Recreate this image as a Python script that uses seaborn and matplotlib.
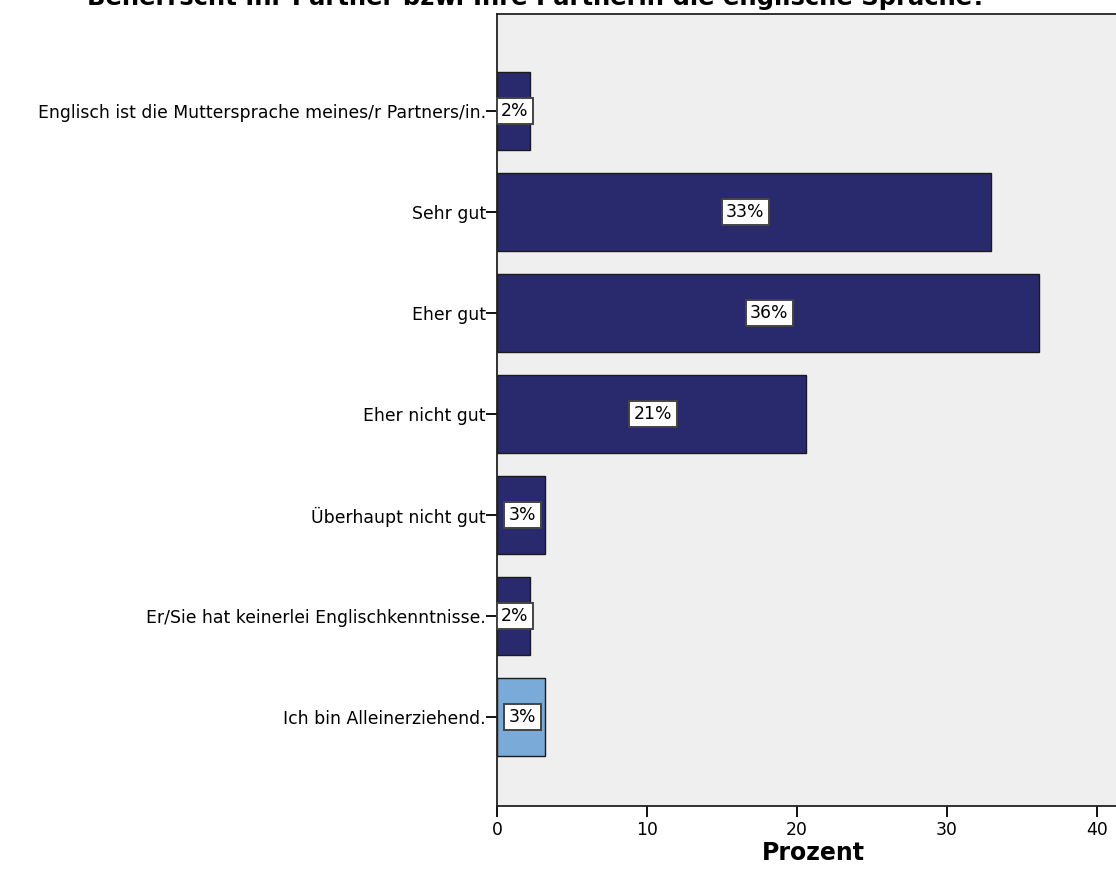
import pandas as pd
import numpy as np
import matplotlib
matplotlib.use("Agg")
import matplotlib.pyplot as plt
import seaborn as sns

categories = [
    "Englisch ist die Muttersprache meines/r Partners/in.",
    "Sehr gut",
    "Eher gut",
    "Eher nicht gut",
    "Überhaupt nicht gut",
    "Er/Sie hat keinerlei Englischkenntnisse.",
    "Ich bin Alleinerziehend.",
]
prozent = [2.2, 32.9, 36.1, 20.6, 3.2, 2.2, 3.2]
bar_labels = ["2%", "33%", "36%", "21%", "3%", "2%", "3%"]
colors = ["#29296e"] * 6 + ["#79aad8"]

data = pd.DataFrame({"Kategorie": categories, "Prozent": prozent})

sns.set_style("white")
plt.rcParams["font.family"] = ["DejaVu Sans"]
plt.rcParams["text.color"] = "black"
plt.rcParams["xtick.color"] = "black"
plt.rcParams["ytick.color"] = "black"
plt.rcParams["axes.labelcolor"] = "black"

W, H = 1116, 891
fig = plt.figure(figsize=(W / 100, H / 100), dpi=100)
ax_left, ax_right, ax_top, ax_bottom = 497, 1130, 14, 806
ax = fig.add_axes([ax_left / W, 1 - ax_bottom / H, (ax_right - ax_left) / W, (ax_bottom - ax_top) / H])
ax.set_facecolor("#efefef")

sns.barplot(data=data, y="Kategorie", x="Prozent", hue="Kategorie",
            palette=dict(zip(categories, colors)), legend=False, saturation=1,
            orient="h", width=0.77, edgecolor="#1a1a1a", linewidth=1.0, ax=ax)

ax.set_xlim(0, (ax_right - ax_left) / 15.0)
ax.set_ylim(6.88, -0.96)
ax.set_xticks([0, 10, 20, 30, 40])
ax.tick_params(axis="x", bottom=True, direction="out", length=8, width=1.3,
               labelsize=12.4, pad=3)
ax.tick_params(axis="y", left=True, direction="out", length=8, width=1.3,
               labelsize=12.4, pad=0)
ax.set_ylabel("")
ax.set_xlabel("Prozent", fontsize=17, fontweight="bold", labelpad=1)

for s in ["left", "bottom", "top"]:
    ax.spines[s].set_visible(True)
    ax.spines[s].set_color("#222222")
    ax.spines[s].set_linewidth(1.3)
ax.spines["right"].set_visible(False)

for i, (v, lab) in enumerate(zip(prozent, bar_labels)):
    ax.text(v / 2 + 0.1, i, lab, ha="center", va="center", fontsize=12.4,
            bbox=dict(boxstyle="square,pad=0.25", facecolor="white",
                      edgecolor="#444444", linewidth=1.4))

fig.text(537 / W, 1 - 5 / H, "Beherrscht Ihr Partner bzw. Ihre Partnerin die englische Sprache?",
         ha="center", va="baseline", fontsize=17.5, fontweight="bold")

fig.savefig("out.png", dpi=100)
